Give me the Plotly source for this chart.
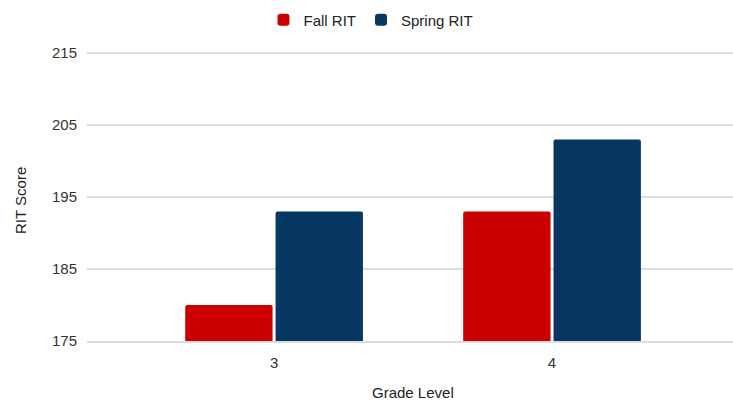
import plotly.graph_objects as go

grades = ["3", "4"]
fall_rit = [180, 193]
spring_rit = [193, 203]
y_ticks = [175, 185, 195, 205, 215]

font = "Liberation Sans, Arial, sans-serif"
W, H = 733, 401
L, R, T, B = 87, 0, 51, 60

fig = go.Figure()
fig.add_trace(go.Bar(name="Fall RIT", x=grades, y=fall_rit,
                     marker=dict(color="#cc0000", cornerradius=2, line=dict(width=0))))
fig.add_trace(go.Bar(name="Spring RIT", x=grades, y=spring_rit,
                     marker=dict(color="#073763", cornerradius=2, line=dict(width=0))))

pw, ph = W - L - R, H - T - B

fig.update_layout(
    width=W, height=H,
    margin=dict(l=L, r=R, t=T, b=B, autoexpand=False),
    paper_bgcolor="white", plot_bgcolor="white",
    barmode="group", bargap=0.35, bargroupgap=0.033,
    font=dict(family=font, size=15, color="#333333"),
    legend=dict(orientation="h", x=371 / W, xanchor="center", xref="container",
                y=1 - 20 / H, yanchor="middle", yref="container",
                font=dict(size=15, color="#222222"), traceorder="normal",
                itemwidth=30),
    showlegend=True,
    xaxis=dict(type="category", range=[-0.673, 1.651], showgrid=False,
               automargin=False, ticks="", showline=True, linecolor="#dddddd",
               linewidth=1.5, ticklabelstandoff=7,
               tickfont=dict(size=15, color="#333333")),
    yaxis=dict(range=[175, 215 + 2 / 7.2], tickvals=y_ticks, showgrid=True,
               gridcolor="#dddddd", gridwidth=1.5, zeroline=False, showline=False,
               ticks="", automargin=False, ticklabelstandoff=9,
               tickfont=dict(size=15, color="#333333")),
    annotations=[
        dict(text="Grade Level", xref="paper", yref="paper",
             x=(413 - L) / pw, y=(H - B - 392) / ph, showarrow=False,
             xanchor="center", yanchor="middle",
             font=dict(size=15, color="#222222")),
        dict(text="RIT Score", xref="paper", yref="paper",
             x=(21 - L) / pw, y=(H - B - 201) / ph, showarrow=False,
             textangle=-90, xanchor="center", yanchor="middle",
             font=dict(size=15, color="#222222")),
    ],
)

fig.write_html("out.html", config={"displayModeBar": False},
               post_script="document.body.style.margin='0';document.body.style.overflow='hidden';document.documentElement.style.overflow='hidden';")
